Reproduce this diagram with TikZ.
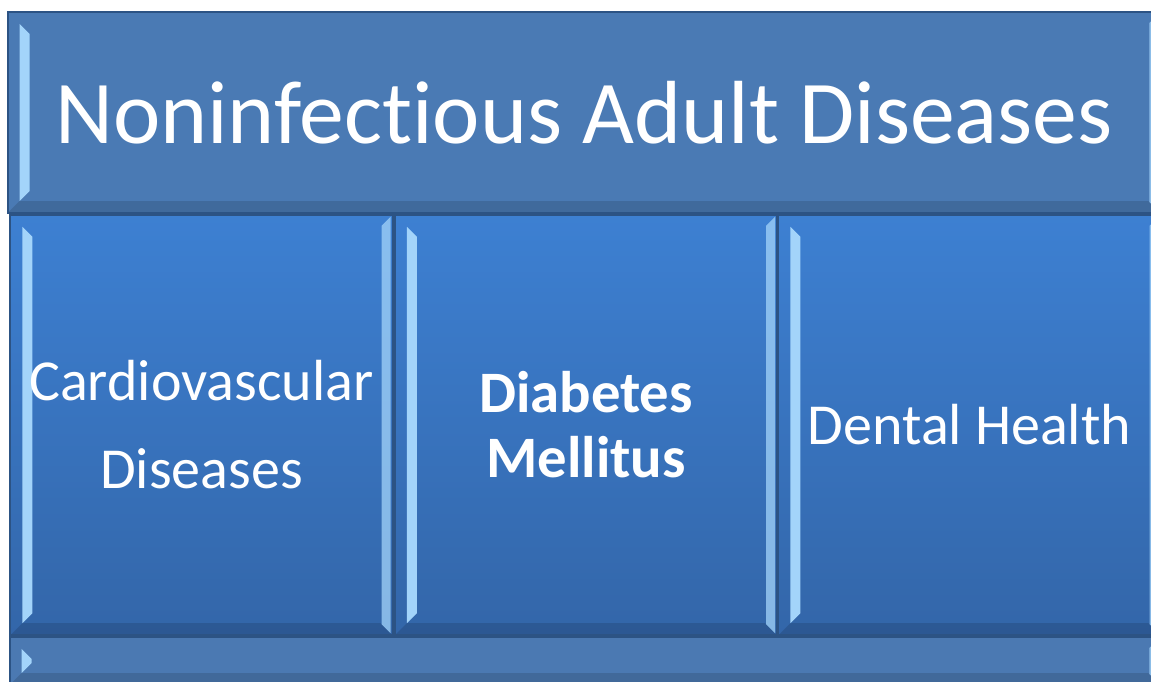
\documentclass[tikz,border=0pt]{standalone}
\usepackage{fontspec}
\setmainfont{Carlito}[Ligatures=NoCommon]

\definecolor{titleblue}{HTML}{4A7AB4}
\definecolor{coltop}{HTML}{3D80D2}
\definecolor{colbot}{HTML}{3366A9}
\definecolor{barblue}{HTML}{4B79B2}
\definecolor{edgeblue}{HTML}{2C5384}
\definecolor{glint}{HTML}{A3D4FA}

\begin{document}
\begin{tikzpicture}[
  x = 0.01cm, y = -0.01cm,
  every node/.style = {text=white, inner sep=0pt, outer sep=0pt, align=center},
  bevel/.style = {draw=edgeblue, line width=0.6pt, path picture={
      \coordinate (nw) at (path picture bounding box.north west);
      \coordinate (ne) at (path picture bounding box.north east);
      \coordinate (sw) at (path picture bounding box.south west);
      \coordinate (se) at (path picture bounding box.south east);
      % darker lower face
      \fill[black, opacity=.13] (sw) -- ([shift={(.12cm,.12cm)}]sw)
        -- ([shift={(-.12cm,.12cm)}]se) -- (se) -- cycle;
      % light strip on the left
      \fill[glint] ([shift={(.12cm,-.12cm)}]nw) -- ([shift={(.22cm,-.22cm)}]nw)
        -- ([shift={(.22cm,.22cm)}]sw) -- ([shift={(.12cm,.12cm)}]sw) -- cycle;
      % softer strip on the right
      \fill[glint, opacity=.75] ([shift={(-.02cm,-.02cm)}]ne) -- ([shift={(-.11cm,-.11cm)}]ne)
        -- ([shift={(-.11cm,.11cm)}]se) -- ([shift={(-.02cm,.02cm)}]se) -- cycle;
  }},
  tier/.style = {bevel, fill=titleblue},
  column/.style = {bevel, top color=coltop, bottom color=colbot,
                   minimum width=3.82cm, minimum height=4.2cm},
]

\fill[white] (0,0) rectangle (1151,682);
\useasboundingbox (0,0) rectangle (1151,682);

\node[tier, minimum width=11.52cm, minimum height=2.01cm,
      font=\fontsize{25.5}{30}\selectfont] (title) at (584,112.5)
      {Noninfectious Adult Diseases};

\node[column, font=\fontsize{16.5}{25}\selectfont]          (cardio) at (201.5,425) {Cardiovascular\\Diseases};
\node[column, font=\fontsize{16.7}{18.5}\selectfont\bfseries] (diab)   at (586,425)   {Diabetes\\Mellitus};
\node[column, font=\fontsize{16.5}{20}\selectfont]          (dental) at (969.5,425) {Dental Health};

\node[tier, fill=barblue, minimum width=11.5cm, minimum height=0.48cm] (base) at (585,661) {};

\end{tikzpicture}
\end{document}
